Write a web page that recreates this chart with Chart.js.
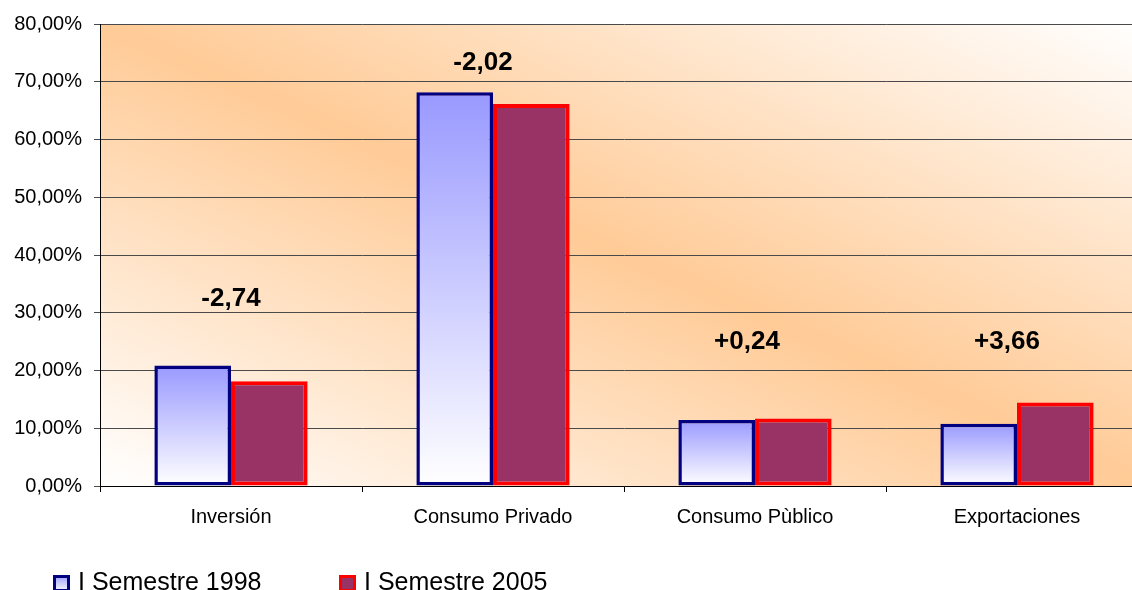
<!DOCTYPE html>
<html>
<head>
<meta charset="utf-8">
<script src="https://cdn.jsdelivr.net/npm/chart.js@4.4.1/dist/chart.umd.min.js"></script>
<style>
  html, body { margin: 0; padding: 0; background: #fff; overflow: hidden; }
  /* the plot runs slightly past the right edge, so the canvas is clipped */
  #wrap { width: 1132px; height: 590px; overflow: hidden; }
</style>
</head>
<body>
<div id="wrap"><canvas id="demandChart" width="1148" height="590"></canvas></div>
<script>
var categories = ["Inversión", "Consumo Privado", "Consumo Pùblico", "Exportaciones"];
var semestre1998 = [20.88, 68.18, 11.45, 10.78];
var semestre2005 = [18.14, 66.16, 11.69, 14.44];
var seriesNames = ["I Semestre 1998", "I Semestre 2005"];
var yTicks = [0, 10, 20, 30, 40, 50, 60, 70, 80];

// height (in % units) of each change label, plus a small sideways nudge
var labelLevels = [32.4, 73.3, 25, 25];
var labelNudge = [0, -10, -8, -10];

Chart.defaults.font.family = "'Liberation Sans', Arial, sans-serif";
Chart.defaults.color = "#000";

function pct(v) { return v.toFixed(2).replace(".", ",") + "%"; }

function change(i) {
  var d = semestre2005[i] - semestre1998[i];
  return (d >= 0 ? "+" : "-") + Math.abs(d).toFixed(2).replace(".", ",");
}

// 1998 bars fade from lavender at the top to white at the base
function blueFade(ctx) {
  var chart = ctx.chart;
  if (!chart.chartArea || ctx.raw == null) return "#c8c8ff";
  var y = chart.scales.y;
  var g = chart.ctx.createLinearGradient(0, y.getPixelForValue(ctx.raw), 0, y.getPixelForValue(0));
  g.addColorStop(0, "#9999ff");
  g.addColorStop(1, "#ffffff");
  return g;
}

// orange band along the top-left / bottom-right diagonal, white in the other corners
var plotBackground = {
  id: "plotBackground",
  beforeDraw: function (chart) {
    var a = chart.chartArea, c = chart.ctx;
    var w = a.right - a.left, h = a.bottom - a.top;
    var cx = (a.left + a.right) / 2, cy = (a.top + a.bottom) / 2;
    var k = w * h / (w * w + h * h);
    var g = c.createLinearGradient(cx - k * h, cy + k * w, cx + k * h, cy - k * w);
    g.addColorStop(0, "#ffffff");
    g.addColorStop(0.5, "#ffcb97");
    g.addColorStop(1, "#ffffff");
    c.save();
    c.fillStyle = g;
    c.fillRect(a.left, a.top, w, h);
    c.restore();
  }
};

var changeLabels = {
  id: "changeLabels",
  afterDatasetsDraw: function (chart) {
    var c = chart.ctx, xs = chart.scales.x, ys = chart.scales.y;
    c.save();
    c.font = "bold 26px 'Liberation Sans', Arial, sans-serif";
    c.fillStyle = "#000";
    c.textAlign = "center";
    c.textBaseline = "middle";
    categories.forEach(function (cat, i) {
      c.fillText(change(i), xs.getPixelForValue(i) + labelNudge[i], ys.getPixelForValue(labelLevels[i]));
    });
    c.restore();
  }
};

var bottomLegend = {
  id: "bottomLegend",
  afterDraw: function (chart) {
    var c = chart.ctx;
    var spots = [53, 339];
    var top = 575, s = 17;
    c.save();
    c.font = "25px 'Liberation Sans', Arial, sans-serif";
    c.textBaseline = "alphabetic";
    c.textAlign = "left";
    chart.data.datasets.forEach(function (ds, i) {
      var x = spots[i];
      var fill = ds.legendFill;
      if (i === 0) {
        fill = c.createLinearGradient(0, top, 0, top + s);
        fill.addColorStop(0, "#9999ff");
        fill.addColorStop(1, "#ffffff");
      }
      c.fillStyle = fill;
      c.fillRect(x, top, s, s);
      c.lineWidth = 3;
      c.strokeStyle = ds.borderColor;
      c.strokeRect(x + 1.5, top + 1.5, s - 3, s - 3);
      c.fillStyle = "#000";
      c.fillText(ds.label, x + 25, 590);
    });
    c.restore();
  }
};

new Chart(document.getElementById("demandChart"), {
  type: "bar",
  data: {
    labels: categories,
    datasets: [
      {
        label: seriesNames[0],
        data: semestre1998,
        backgroundColor: blueFade,
        borderColor: "#000080",
        borderWidth: 3.5,
        borderSkipped: false
      },
      {
        label: seriesNames[1],
        data: semestre2005,
        backgroundColor: "#993366",
        legendFill: "#993366",
        borderColor: "#ff0000",
        borderWidth: 4,
        borderSkipped: false
      }
    ]
  },
  options: {
    responsive: false,
    animation: false,
    layout: { padding: { top: 24, right: 0, bottom: 0, left: 0 } },
    datasets: { bar: { categoryPercentage: 0.585, barPercentage: 1 } },
    plugins: { legend: { display: false }, tooltip: { enabled: false } },
    scales: {
      x: {
        grid: { display: true, drawOnChartArea: false, drawTicks: true, tickLength: 6, color: "#000", offset: true },
        border: { color: "#000", width: 1 },
        ticks: { font: { size: 20 }, padding: 13, color: "#000", maxRotation: 0 },
        afterFit: function (s) { s.height = 104; }
      },
      y: {
        min: 0,
        max: 80,
        afterBuildTicks: function (s) { s.ticks = yTicks.map(function (v) { return { value: v }; }); },
        grid: { color: "#4a4a4a", tickLength: 6 },
        border: { color: "#000" },
        ticks: { font: { size: 20 }, padding: 12, color: "#000", callback: function (v) { return pct(v); } },
        afterFit: function (s) { s.width = 100; }
      }
    }
  },
  plugins: [plotBackground, changeLabels, bottomLegend]
});
</script>
</body>
</html>
